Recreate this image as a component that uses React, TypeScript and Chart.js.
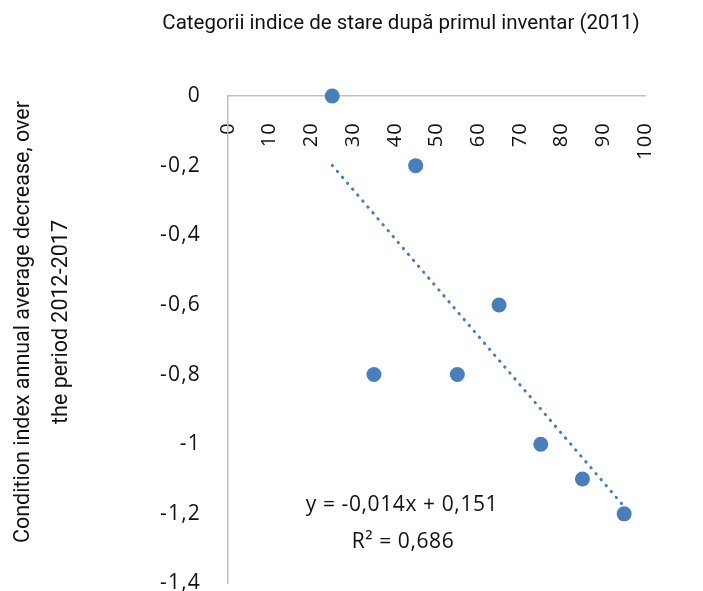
import { useEffect, useRef } from "react";
import { Chart, registerables } from "chart.js";

Chart.register(...registerables);

// Condition index category (first inventory, 2011) vs. annual average decrease 2012-2017
const categoryValues = [25, 35, 45, 55, 65, 75, 85, 95];
const decreaseValues = [0, -0.8, -0.2, -0.8, -0.6, -1, -1.1, -1.2];

// Linear trend shown on the chart
const trendSlope = -0.014;
const trendIntercept = 0.151;
const trendR2 = 0.686;

const xTitle = "Categorii indice de stare după primul inventar (2011)";
const yTitleLines = [
  "Condition index annual average decrease, over",
  "the period 2012-2017",
];

const TITLE_FONT = 'Roboto, "Open Sans", sans-serif';
const NUM_FONT = '"Open Sans", Roboto, sans-serif';
const TEXT = "#111111";
const BLUE = "#4a7ebb";
const AXIS = "#bfbfbf";

const fmt = (v: number, digits: number) =>
  Number(v.toFixed(digits)).toString().replace(".", ",");

// Slightly looser spacing for the numeric labels
const numberSpacing = {
  id: "numberSpacing",
  beforeDraw(chart: Chart) {
    (chart.ctx as any).letterSpacing = "1.2px";
  },
};

const annotations = {
  id: "annotations",
  afterDraw(chart: Chart) {
    const ctx = chart.ctx as any;
    ctx.save();
    ctx.fillStyle = TEXT;
    ctx.textAlign = "center";
    ctx.textBaseline = "middle";

    // Category axis title above the plot
    ctx.letterSpacing = "0px";
    ctx.font = `20.5px ${TITLE_FONT}`;
    ctx.fillText(xTitle, 401, 24);

    // Value axis title, rotated
    ctx.save();
    ctx.font = `21.5px ${TITLE_FONT}`;
    ctx.translate(0, 322);
    ctx.rotate(-Math.PI / 2);
    ctx.fillText(yTitleLines[0], 0, 24);
    ctx.fillText(yTitleLines[1], 0, 62);
    ctx.restore();

    // Trend equation
    ctx.letterSpacing = "0.6px";
    ctx.font = `21px ${NUM_FONT}`;
    ctx.fillText(
      `y = ${fmt(trendSlope, 3)}x + ${fmt(trendIntercept, 3)}`,
      402,
      505
    );
    ctx.fillText(`R² = ${fmt(trendR2, 3)}`, 403, 542);
    ctx.restore();
    ctx.letterSpacing = "0px";
  },
};

export default function App() {
  const canvasRef = useRef<HTMLCanvasElement | null>(null);

  useEffect(() => {
    if (!canvasRef.current) return;
    const xMin = Math.min(...categoryValues);
    const xMax = Math.max(...categoryValues);
    const trendPoints = [xMin, xMax].map((x) => ({
      x,
      y: trendSlope * x + trendIntercept,
    }));

    const chart = new Chart(canvasRef.current, {
      type: "scatter",
      data: {
        datasets: [
          {
            label: "Categorii",
            data: categoryValues.map((x, i) => ({ x, y: decreaseValues[i] })),
            backgroundColor: BLUE,
            borderColor: BLUE,
            borderWidth: 0,
            pointRadius: 7.5,
            pointHoverRadius: 7.5,
            clip: false,
            order: 0,
          },
          {
            label: "Trend",
            type: "line",
            data: trendPoints,
            borderColor: BLUE,
            borderWidth: 3,
            borderDash: [0.5, 7.3],
            borderCapStyle: "round",
            pointRadius: 0,
            fill: false,
            clip: false,
            order: 1,
          },
        ],
      },
      options: {
        responsive: false,
        animation: false,
        layout: { padding: { left: 0, top: 96, right: 58, bottom: 7 } },
        plugins: {
          legend: { display: false },
          tooltip: { enabled: false },
          title: { display: false },
        },
        scales: {
          x: {
            type: "linear",
            position: { y: 0 },
            min: 0,
            max: 100,
            grid: { display: false, drawTicks: false },
            border: { display: true, color: AXIS, width: 1.5 },
            ticks: {
              stepSize: 10,
              minRotation: 90,
              maxRotation: 90,
              padding: 26,
              color: TEXT,
              font: { family: NUM_FONT, size: 20 },
            },
          },
          y: {
            type: "linear",
            position: "left",
            min: -1.4,
            max: 0,
            afterFit(scale: any) {
              scale.width = 228;
              scale.paddingTop = 0;
              scale.paddingBottom = 0;
            },
            grid: { display: false, drawTicks: false },
            border: { display: true, color: AXIS, width: 1.5 },
            ticks: {
              stepSize: 0.2,
              padding: 27,
              color: TEXT,
              font: { family: NUM_FONT, size: 21 },
              callback: (v: any) => fmt(Number(v), 1),
            },
          },
        },
      },
      plugins: [numberSpacing, annotations],
    });
    return () => chart.destroy();
  }, []);

  return (
    <div style={{ position: "fixed", left: 0, top: 0, width: 703, height: 591, background: "#fff" }}>
      <canvas ref={canvasRef} width={703} height={591} style={{ display: "block" }} />
    </div>
  );
}
